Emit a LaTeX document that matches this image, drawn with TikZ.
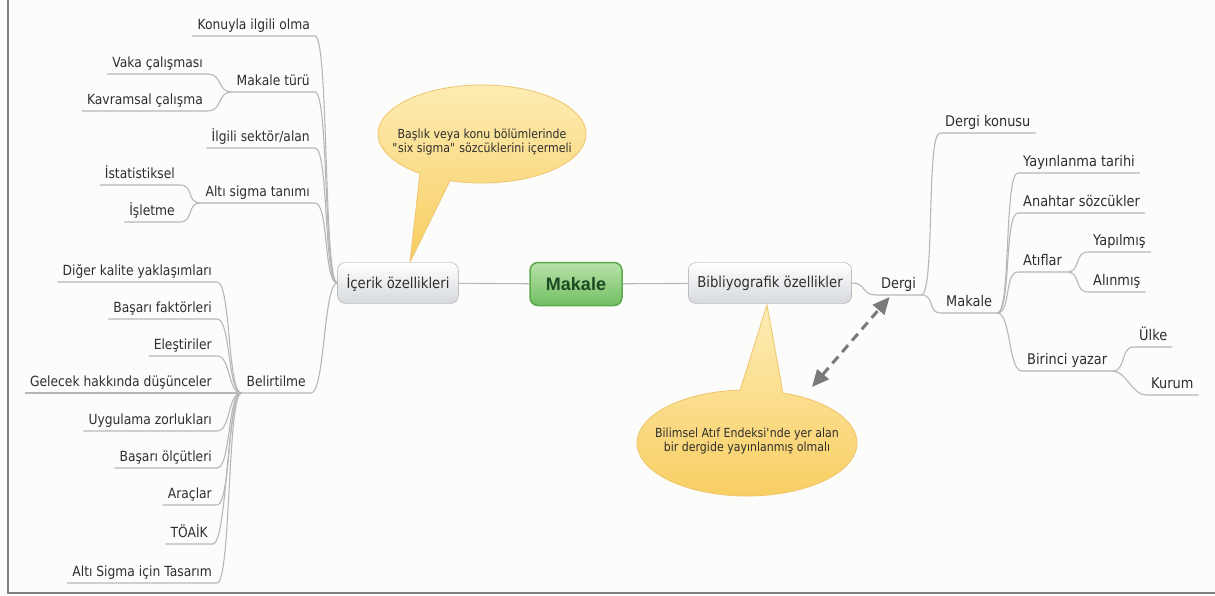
\documentclass[tikz,border=0pt]{standalone}
\usepackage{fontspec}
\setmainfont{DejaVu Sans}[FakeStretch=0.88]
\newfontfamily\rootfont{Liberation Sans}
\usetikzlibrary{arrows.meta}
\definecolor{bgcol}{HTML}{FCFCFA}
\definecolor{framecol}{HTML}{7F7F7F}
\definecolor{linkcol}{HTML}{B7B7B7}
\definecolor{labelcol}{HTML}{2E2E2E}
\definecolor{boxline}{HTML}{A3A5A8}
\definecolor{boxbottom}{HTML}{D6D9DD}
\definecolor{calloutline}{HTML}{EFC46C}
\definecolor{callouttop}{HTML}{FDEDB6}
\definecolor{calloutbottom}{HTML}{F8CD60}
\definecolor{roottop}{HTML}{B8E2A8}
\definecolor{rootbottom}{HTML}{72BF63}
\definecolor{rootline}{HTML}{5CA84F}
\definecolor{roottext}{HTML}{1C4A22}
\definecolor{arrowcol}{HTML}{7A7A7A}
\newcommand\dquote{\XeTeXglyph\XeTeXglyphindex "quotedbl"\relax}
\newcommand\squote{\XeTeXglyph\XeTeXglyphindex "quotesingle"\relax}

\begin{document}
\begin{tikzpicture}[x=1pt,y=-1pt,
  topic/.style={inner xsep=5pt, inner ysep=3pt, text height=10.5pt, text depth=3pt, text=labelcol},
  lefttopic/.style={topic, anchor=south east, font=\fontsize{14}{16}\selectfont},
  righttopic/.style={topic, anchor=south west, font=\fontsize{14.7}{16}\selectfont},
  box/.style={rounded corners=8pt, draw=boxline, top color=white, bottom color=boxbottom, minimum height=41pt, inner xsep=9pt, text=labelcol, font=\fontsize{15}{17}\selectfont},
  rootbox/.style={rounded corners=8pt, draw=rootline, line width=1.5pt, top color=roottop, bottom color=rootbottom, minimum width=92pt, minimum height=43pt, text=roottext, font=\rootfont\bfseries\fontsize{18}{20}\selectfont},
  callout/.style={draw=calloutline, line width=0.8pt, top color=callouttop, bottom color=calloutbottom},
  callouttext/.style={align=center, text=labelcol, font=\fontsize{12.5}{14}\selectfont},
  link/.style={draw=linkcol, line width=1.1pt},
  conn/.style={out=0, in=180, distance=14pt}]

  \useasboundingbox (0,0) rectangle (1215,596);
  \fill[bgcol] (0,0) rectangle (1215,596);
  \draw[framecol, line width=1.5pt] (8,0) -- (8,593) -- (1215,593);

  \draw[callout] (410,262) -- ([shift={(107.9:104 and 49)}]482,134)
    arc[start angle=107.9, end angle=-233.4, x radius=104, y radius=49] -- cycle;
  \node[callouttext] (note1) at (482,142) {Başlık veya konu bölümlerinde\\\dquote six sigma\dquote{} sözcüklerini içermeli};

  \draw[callout] (767,305) -- ([shift={(-70.9:110 and 53)}]747,443)
    arc[start angle=-70.9, end angle=266.4, x radius=110, y radius=53] -- cycle;
  \node[callouttext] (note2) at (747,441) {Bilimsel Atıf Endeksi\squote nde yer alan\\bir dergide yayınlanmış olmalı};

  \node[box] (icerik) at (398,283) {İçerik özellikleri};
  \node[rootbox] (makale) at (576,284) {Makale};
  \node[box] (biblio) at (770,283) {Bibliyografik özellikler};

  \node[lefttopic] (konu) at (315,36) {Konuyla ilgili olma};
  \node[lefttopic] (tur) at (315,92) {Makale türü};
  \node[lefttopic] (vaka) at (208,74) {Vaka çalışması};
  \node[lefttopic] (kavram) at (208,111) {Kavramsal çalışma};
  \node[lefttopic] (sektor) at (315,148) {İlgili sektör/alan};
  \node[lefttopic] (tanim) at (315,203) {Altı sigma tanımı};
  \node[lefttopic] (istat) at (180,185) {İstatistiksel};
  \node[lefttopic] (islet) at (180,222) {İşletme};
  \node[lefttopic] (belirt) at (311,393) {Belirtilme};
  \node[lefttopic] (diger) at (217,282) {Diğer kalite yaklaşımları};
  \node[lefttopic] (faktor) at (217,319) {Başarı faktörleri};
  \node[lefttopic] (elest) at (217,356) {Eleştiriler};
  \node[lefttopic] (gelecek) at (217,393) {Gelecek hakkında düşünceler};
  \node[lefttopic] (zorluk) at (217,431) {Uygulama zorlukları};
  \node[lefttopic] (olcut) at (217,468) {Başarı ölçütleri};
  \node[lefttopic] (arac) at (217,505) {Araçlar};
  \node[lefttopic] (toaik) at (213,544) {TÖAİK};
  \node[lefttopic] (tasarim) at (217,583) {Altı Sigma için Tasarım};

  \node[righttopic] (dergi) at (876,295) {Dergi};
  \node[righttopic] (dkonu) at (940,133) {Dergi konusu};
  \node[righttopic] (rmakale) at (941,313) {Makale};
  \node[righttopic] (tarih) at (1018,173) {Yayınlanma tarihi};
  \node[righttopic] (anahtar) at (1018,213) {Anahtar sözcükler};
  \node[righttopic] (atif) at (1018,272) {Atıflar};
  \node[righttopic] (yapilmis) at (1088,252) {Yapılmış};
  \node[righttopic] (alinmis) at (1088,292) {Alınmış};
  \node[righttopic] (yazar) at (1022,371) {Birinci yazar};
  \node[righttopic] (ulke) at (1134,347) {Ülke};
  \node[righttopic] (kurum) at (1146,395) {Kurum};

  \draw[link] (icerik) -- (makale);
  \draw[link] (makale) -- (biblio);

  \draw[link] (konu.south west) -- (konu.south east) to[conn] (icerik.west);
  \draw[link] (tur.south west) -- (tur.south east) to[conn] (icerik.west);
  \draw[link] (sektor.south west) -- (sektor.south east) to[conn] (icerik.west);
  \draw[link] (tanim.south west) -- (tanim.south east) to[conn] (icerik.west);
  \draw[link] (belirt.south west) -- (belirt.south east) to[conn] (icerik.west);
  \draw[link] (vaka.south west) -- (vaka.south east) to[conn] (tur.south west);
  \draw[link] (kavram.south west) -- (kavram.south east) to[conn] (tur.south west);
  \draw[link] (istat.south west) -- (istat.south east) to[conn] (tanim.south west);
  \draw[link] (islet.south west) -- (islet.south east) to[conn] (tanim.south west);
  \draw[link] (diger.south west) -- (diger.south east) to[conn] (belirt.south west);
  \draw[link] (faktor.south west) -- (faktor.south east) to[conn] (belirt.south west);
  \draw[link] (elest.south west) -- (elest.south east) to[conn] (belirt.south west);
  \draw[link] (gelecek.south west) -- (gelecek.south east) to[conn] (belirt.south west);
  \draw[link] (zorluk.south west) -- (zorluk.south east) to[conn] (belirt.south west);
  \draw[link] (olcut.south west) -- (olcut.south east) to[conn] (belirt.south west);
  \draw[link] (arac.south west) -- (arac.south east) to[conn] (belirt.south west);
  \draw[link] (toaik.south west) -- (toaik.south east) to[conn] (belirt.south west);
  \draw[link] (tasarim.south west) -- (tasarim.south east) to[conn] (belirt.south west);

  \draw[link] (biblio.east) to[conn] (dergi.south west) -- (dergi.south east);
  \draw[link] (dergi.south east) to[conn] (dkonu.south west) -- (dkonu.south east);
  \draw[link] (dergi.south east) to[conn] (rmakale.south west) -- (rmakale.south east);
  \draw[link] (rmakale.south east) to[conn] (tarih.south west) -- (tarih.south east);
  \draw[link] (rmakale.south east) to[conn] (anahtar.south west) -- (anahtar.south east);
  \draw[link] (rmakale.south east) to[conn] (atif.south west) -- (atif.south east);
  \draw[link] (rmakale.south east) to[conn] (yazar.south west) -- (yazar.south east);
  \draw[link] (atif.south east) to[conn] (yapilmis.south west) -- (yapilmis.south east);
  \draw[link] (atif.south east) to[conn] (alinmis.south west) -- (alinmis.south east);
  \draw[link] (yazar.south east) to[conn] (ulke.south west) -- (ulke.south east);
  \draw[link] (yazar.south east) to[conn] (kurum.south west) -- (kurum.south east);

  \coordinate (dtip) at (812,387);
  \draw[arrowcol, line width=3pt, dash pattern=on 9pt off 6pt,
    {Triangle[length=17pt,width=15pt]}-{Triangle[length=17pt,width=15pt]}]
    (dtip) -- ([xshift=-9pt,yshift=-2pt]dergi.south);
\end{tikzpicture}
\end{document}
